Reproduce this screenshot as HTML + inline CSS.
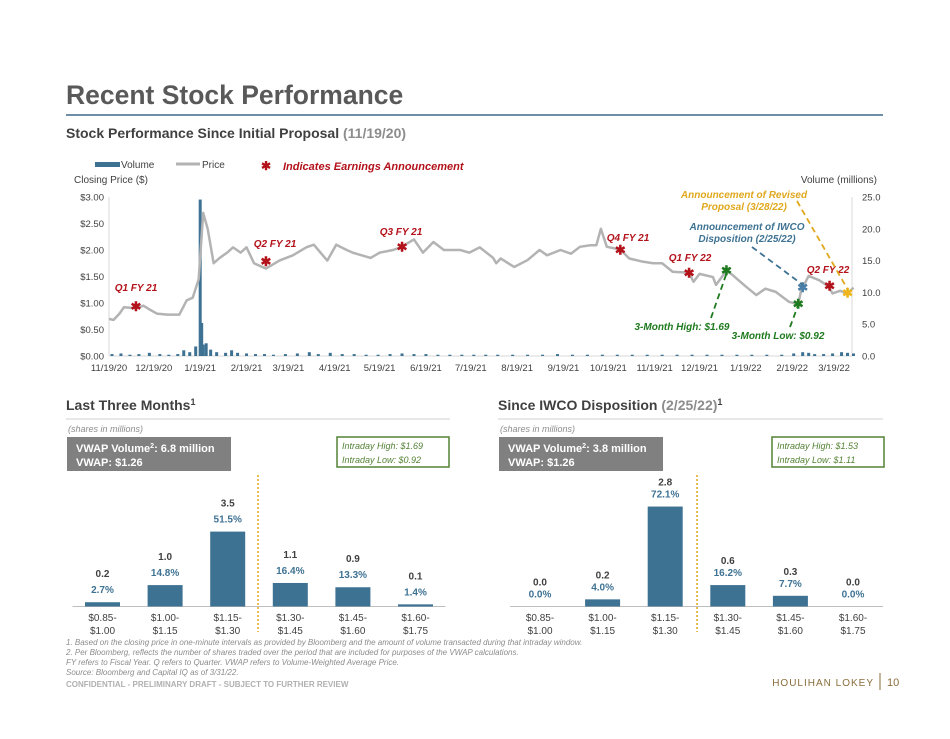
<!DOCTYPE html>
<html><head><meta charset="utf-8"><style>
body{margin:0;background:#fff;font-family:"Liberation Sans",Arial,sans-serif}
svg text{font-family:"Liberation Sans",Arial,sans-serif}
</style></head><body>
<svg id="s" width="950" height="734" viewBox="0 0 950 734" xmlns="http://www.w3.org/2000/svg">
<text x="66" y="104" font-size="26.5" font-weight="bold" fill="#595959">Recent Stock Performance</text>
<line x1="66" y1="115" x2="883" y2="115" stroke="#3f6a8a" stroke-width="1.5"/>
<text x="66" y="138" font-size="14" font-weight="bold" fill="#404040">Stock Performance Since Initial Proposal <tspan fill="#8c8c8c">(11/19/20)</tspan></text>
<g>
<rect x="95" y="162" width="25" height="5" fill="#3e7293"/>
<text x="121" y="168" font-size="10" fill="#404040">Volume</text>
<line x1="176" y1="164" x2="200" y2="164" stroke="#b3b3b3" stroke-width="3"/>
<text x="202" y="168" font-size="10" fill="#404040">Price</text>
<text x="261" y="170" font-size="12" fill="#b3121b" font-weight="bold">✱</text>
<text x="283" y="170" font-size="11" font-style="italic" font-weight="bold" fill="#b3121b">Indicates Earnings Announcement</text>
</g>
<text x="74" y="183" font-size="10" fill="#404040">Closing Price ($)</text>
<text x="877" y="183" font-size="10" fill="#404040" text-anchor="end">Volume (millions)</text>
<g id="main"></g>
<g>
<text x="136" y="291" font-size="10" font-style="italic" font-weight="bold" fill="#b3121b" text-anchor="middle">Q1 FY 21</text>
<text x="275" y="247" font-size="10" font-style="italic" font-weight="bold" fill="#b3121b" text-anchor="middle">Q2 FY 21</text>
<text x="401" y="235" font-size="10" font-style="italic" font-weight="bold" fill="#b3121b" text-anchor="middle">Q3 FY 21</text>
<text x="628" y="241" font-size="10" font-style="italic" font-weight="bold" fill="#b3121b" text-anchor="middle">Q4 FY 21</text>
<text x="690" y="261" font-size="10" font-style="italic" font-weight="bold" fill="#b3121b" text-anchor="middle">Q1 FY 22</text>
<text x="828" y="273" font-size="10" font-style="italic" font-weight="bold" fill="#b3121b" text-anchor="middle">Q2 FY 22</text>
<text x="744" y="198" font-size="10" font-style="italic" font-weight="bold" fill="#e0a81c" text-anchor="middle">Announcement of Revised</text>
<text x="744" y="210" font-size="10" font-style="italic" font-weight="bold" fill="#e0a81c" text-anchor="middle">Proposal (3/28/22)</text>
<text x="747" y="230" font-size="10" font-style="italic" font-weight="bold" fill="#3e7293" text-anchor="middle">Announcement of IWCO</text>
<text x="747" y="242" font-size="10" font-style="italic" font-weight="bold" fill="#3e7293" text-anchor="middle">Disposition (2/25/22)</text>
<text x="682" y="330" font-size="10" font-style="italic" font-weight="bold" fill="#1e7a1e" text-anchor="middle">3-Month High: $1.69</text>
<text x="778" y="339" font-size="10" font-style="italic" font-weight="bold" fill="#1e7a1e" text-anchor="middle">3-Month Low: $0.92</text>
<line x1="711" y1="318" x2="727" y2="272" stroke="#1e7a1e" stroke-width="1.8" stroke-dasharray="6,4"/>
<line x1="790" y1="327" x2="799" y2="303" stroke="#1e7a1e" stroke-width="1.8" stroke-dasharray="6,4"/>
<line x1="752" y1="247" x2="803" y2="285" stroke="#3e7293" stroke-width="1.8" stroke-dasharray="6,4"/>
<line x1="797" y1="201" x2="848" y2="290" stroke="#e0a81c" stroke-width="1.8" stroke-dasharray="6,4"/>
</g>

<text x="66" y="410" font-size="14" font-weight="bold" fill="#404040">Last Three Months<tspan font-size="9" dy="-5">1</tspan></text>
<line x1="66" y1="419" x2="450" y2="419" stroke="#d0d0d0"/>
<text x="498" y="410" font-size="14" font-weight="bold" fill="#404040">Since IWCO Disposition <tspan fill="#8c8c8c">(2/25/22)</tspan><tspan font-size="9" dy="-5">1</tspan></text>
<line x1="498" y1="419" x2="883" y2="419" stroke="#d0d0d0"/>
<text x="68" y="432" font-size="9" font-style="italic" fill="#8c8c8c">(shares in millions)</text>
<text x="500" y="432" font-size="9" font-style="italic" fill="#8c8c8c">(shares in millions)</text>
<g>
<rect x="67" y="437" width="164" height="34" fill="#808080"/>
<text x="76" y="452" font-size="11" font-weight="bold" fill="#fff">VWAP Volume<tspan font-size="7" dy="-4">2</tspan><tspan dy="4">: 6.8 million</tspan></text>
<text x="76" y="466" font-size="11" font-weight="bold" fill="#fff">VWAP: $1.26</text>
</g>
<g>
<rect x="337" y="437" width="112" height="30" fill="#fff" stroke="#548235" stroke-width="1.5"/>
<text x="342" y="449" font-size="9" font-style="italic" fill="#548235">Intraday High: $1.69</text>
<text x="342" y="463" font-size="9" font-style="italic" fill="#548235">Intraday Low: $0.92</text>
</g>
<g>
<rect x="499" y="437" width="164" height="34" fill="#808080"/>
<text x="508" y="452" font-size="11" font-weight="bold" fill="#fff">VWAP Volume<tspan font-size="7" dy="-4">2</tspan><tspan dy="4">: 3.8 million</tspan></text>
<text x="508" y="466" font-size="11" font-weight="bold" fill="#fff">VWAP: $1.26</text>
</g>
<g>
<rect x="772" y="437" width="112" height="30" fill="#fff" stroke="#548235" stroke-width="1.5"/>
<text x="777" y="449" font-size="9" font-style="italic" fill="#548235">Intraday High: $1.53</text>
<text x="777" y="463" font-size="9" font-style="italic" fill="#548235">Intraday Low: $1.11</text>
</g>
<g id="left"></g>
<g id="right"></g>
<g font-size="8" font-style="italic" fill="#8c8c8c">
<text x="66" y="645">1. Based on the closing price in one-minute intervals as provided by Bloomberg and the amount of volume transacted during that intraday window.</text>
<text x="66" y="655">2. Per Bloomberg, reflects the number of shares traded over the period that are included for purposes of the VWAP calculations.</text>
<text x="66" y="665">FY refers to Fiscal Year. Q refers to Quarter. VWAP refers to Volume-Weighted Average Price.</text>
<text x="66" y="675">Source: Bloomberg and Capital IQ as of 3/31/22.</text>
</g>
<text x="66" y="687" font-size="8" font-weight="bold" fill="#b0b0b0">CONFIDENTIAL - PRELIMINARY DRAFT - SUBJECT TO FURTHER REVIEW</text>
<text x="874" y="686" font-size="10" font-family="Liberation Serif" fill="#8a6d3b" text-anchor="end" letter-spacing="1">HOULIHAN LOKEY</text>
<line x1="880" y1="673" x2="880" y2="690" stroke="#8a6d3b"/>
<text x="887" y="686" font-size="11" fill="#8a6d3b">10</text>
</svg>
<script>
// ---- main chart data (days since 11/19/20) ----
const priceDays=[0,3,7,10,18,23,27,32,39,47,52,56,60,63,66,70,74,79,83,88,92,97,105,114,123,132,137,146,152,159,163,175,181,190,195,204,210,217,224,235,241,248,257,259,262,271,280,288,293,302,309,315,322,326,329,333,342,348,357,364,370,377,388,391,395,404,406,413,417,426,433,439,446,455,461,463,468,475,481,484,489,494,498];
const prices=[0.70,0.68,0.80,0.92,0.90,0.95,0.88,0.80,0.78,0.78,1.05,1.10,1.45,2.70,2.40,1.75,1.85,1.95,2.05,1.95,2.05,1.75,1.65,1.80,1.90,2.05,2.10,1.80,2.10,2.00,1.95,1.85,1.95,2.00,2.05,2.20,1.95,2.15,2.00,2.00,1.95,2.05,1.85,1.75,1.84,1.68,1.81,2.00,1.90,2.00,1.93,2.06,2.09,2.09,2.40,2.06,2.01,1.84,1.78,1.75,1.75,1.59,1.57,1.40,1.55,1.49,1.34,1.61,1.53,1.31,1.15,1.27,1.21,1.02,0.98,1.24,1.51,1.43,1.32,1.18,1.23,1.18,1.29];
const volDays=[2,8,14,20,27,34,40,46,50,54,58,61,62,63,65,68,72,78,82,86,92,98,104,110,118,126,134,140,148,156,164,172,180,188,196,204,212,220,228,236,244,252,260,270,280,290,300,310,320,330,340,350,360,370,380,390,400,410,420,430,440,450,458,464,468,472,478,484,490,494,498];
const vols=[0.3,0.4,0.2,0.3,0.5,0.3,0.2,0.3,0.9,0.6,1.5,24.6,5.2,1.8,2.0,1.0,0.6,0.5,0.9,0.5,0.4,0.3,0.3,0.2,0.3,0.4,0.6,0.3,0.5,0.3,0.3,0.2,0.2,0.3,0.4,0.3,0.3,0.2,0.2,0.2,0.2,0.2,0.2,0.2,0.2,0.2,0.3,0.2,0.2,0.2,0.2,0.2,0.2,0.2,0.2,0.2,0.2,0.2,0.2,0.2,0.2,0.2,0.4,0.6,0.5,0.3,0.3,0.4,0.6,0.5,0.4];
const earnDays=[18,105,196,342,388,482];
const earnPrices=[0.93,1.78,2.06,2.00,1.57,1.32];
const specialDays=[413,461,464,494];
const specialPrices=[1.61,0.98,1.29,1.19];
const specialColors=['#1e7a1e','#1e7a1e','#4a7fa8','#f0b619'];
const leftTicks=['$0.00','$0.50','$1.00','$1.50','$2.00','$2.50','$3.00'];
const rightTicks=['0.0','5.0','10.0','15.0','20.0','25.0'];
const xTickLabels=['11/19/20','12/19/20','1/19/21','2/19/21','3/19/21','4/19/21','5/19/21','6/19/21','7/19/21','8/19/21','9/19/21','10/19/21','11/19/21','12/19/21','1/19/22','2/19/22','3/19/22'];
const xTickDays=[0,30,61,92,120,151,181,212,242,273,304,334,365,395,426,457,485];
// ---- bar chart data ----
const binLabels1=['$0.85-','$1.00-','$1.15-','$1.30-','$1.45-','$1.60-'];
const binLabels2=['$1.00','$1.15','$1.30','$1.45','$1.60','$1.75'];
const leftVals=[0.2,1.0,3.5,1.1,0.9,0.1];
const leftPcts=['2.7%','14.8%','51.5%','16.4%','13.3%','1.4%'];
const rightVals=[0.0,0.2,2.8,0.6,0.3,0.0];
const rightPcts=['0.0%','4.0%','72.1%','16.2%','7.7%','0.0%'];

const NS='http://www.w3.org/2000/svg';
function mk(p,t,a){const e=document.createElementNS(NS,t);for(const k in a)e.setAttribute(k,a[k]);p.appendChild(e);return e;}
const X0=109,PXD=1.495,Y0=356,PPD=53;
const xs=d=>X0+d*PXD, yp=p=>Y0-p*PPD, yv=v=>Y0-v*(159/25);
const g=document.getElementById('main');
mk(g,'line',{x1:X0,y1:197,x2:X0,y2:Y0,stroke:'#d9d9d9'});
mk(g,'line',{x1:852,y1:197,x2:852,y2:Y0,stroke:'#d9d9d9'});
mk(g,'line',{x1:X0,y1:Y0,x2:852,y2:Y0,stroke:'#d9d9d9'});
leftTicks.forEach((t,i)=>{const e=mk(g,'text',{x:104,y:yp(i*0.5)+3.5,'font-size':9.5,fill:'#404040','text-anchor':'end'});e.textContent=t;

});
rightTicks.forEach((t,i)=>{const e=mk(g,'text',{x:862,y:yv(i*5)+3.5,'font-size':9.5,fill:'#404040'});e.textContent=t;

});
xTickLabels.forEach((t,i)=>{const e=mk(g,'text',{x:xs(xTickDays[i]),y:371,'font-size':9.5,fill:'#404040','text-anchor':'middle'});e.textContent=t;

});
vols.forEach((v,i)=>{const r=mk(g,'rect',{x:xs(volDays[i])-1.5,y:yv(v),width:3,height:Math.max(0.5,Y0-yv(v)),fill:'#3e7293'});

});
const pl=mk(g,'polyline',{points:priceDays.map((d,i)=>xs(d)+','+yp(prices[i])).join(' '),fill:'none',stroke:'#b3b3b3','stroke-width':2.5,'stroke-linejoin':'round'});


function star(x,y,c,n){const e=mk(g,'text',{x:x,y:y+4.5,'font-size':13,'font-weight':'bold',fill:c,'text-anchor':'middle'});e.textContent='✱';

}
earnDays.forEach((d,i)=>star(xs(d),yp(earnPrices[i]),'#b3121b','earnings-marker'));
specialDays.forEach((d,i)=>star(xs(d),yp(specialPrices[i]),specialColors[i],'event-marker'));
function bars(id,vals,pcts,x0,scale,divX,gap){
 const G=document.getElementById(id),B=606.5,step=62.6,w=35;
 mk(G,'line',{x1:x0-30,y1:B,x2:x0+5*step+30,y2:B,stroke:'#bfbfbf'});
 mk(G,'line',{x1:divX,y1:475,x2:divX,y2:632,stroke:'#e0a81c','stroke-width':1.5,'stroke-dasharray':'2,2'});
 vals.forEach((v,i)=>{const cx=x0+i*step,h=v*scale;
  const r=mk(G,'rect',{x:cx-w/2,y:B-h,width:w,height:h,fill:'#3e7293'});
  
  
  const tp=B-h-9;
  const p=mk(G,'text',{x:cx,y:tp,'font-size':10,'font-weight':'bold',fill:'#3e7293','text-anchor':'middle'});p.textContent=pcts[i];
  
  
  const l=mk(G,'text',{x:cx,y:tp-gap,'font-size':10,'font-weight':'bold',fill:'#404040','text-anchor':'middle'});l.textContent=v.toFixed(1);
  
  
  const a=mk(G,'text',{x:cx,y:621,'font-size':10,fill:'#404040','text-anchor':'middle'});a.textContent=binLabels1[i];
  
  
  const b=mk(G,'text',{x:cx,y:634,'font-size':10,fill:'#404040','text-anchor':'middle'});b.textContent=binLabels2[i];
  
  
 });
}
bars('left',leftVals,leftPcts,102.5,21.4,258,16);
bars('right',rightVals,rightPcts,540,35.7,697,12);
</script>
</body></html>
